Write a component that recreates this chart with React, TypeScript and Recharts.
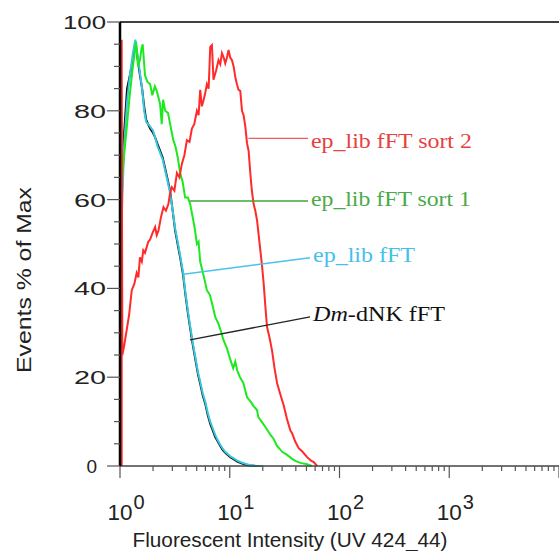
import React from 'react'
import { LineChart, Line, XAxis, YAxis, ReferenceLine } from 'recharts'

// channel intensities (log axis) and % of max for each histogram
const lowX = [
  1, 1.02, 1.09, 1.16, 1.23, 1.31, 1.38, 1.46, 1.52, 1.59,
  1.66, 1.73, 1.88, 2.0, 2.09, 2.2, 2.32, 2.45, 2.58, 2.72,
  2.86, 3.0, 3.18, 3.35, 3.53, 3.76, 3.95, 4.18, 4.36, 4.55,
  4.74, 4.94, 5.15, 5.38, 5.66, 5.98, 6.3, 6.64, 7.0, 7.37,
  7.78, 8.19, 8.64, 9.1, 10.1, 10.9, 11.7, 12.8, 13.9, 15.4,
  17.1, 20,
]
const dnkY = [
  0, 55, 75, 85, 88, 91.5, 95.5, 91, 88, 85,
  81, 78, 76, 75, 74, 72.5, 71, 69.5, 67, 64.5,
  62, 58, 53, 50, 47, 43, 38.5, 34, 31, 28,
  25.5, 23, 20.5, 18.5, 16, 14, 11.5, 9.5, 8, 6.5,
  5.5, 4.5, 3.6, 3, 2, 1.5, 1, 0.6, 0.3, 0.1,
  0, 0,
]
const eplibY = [
  0, 50, 72, 82, 88, 93, 96, 92, 88.5, 85,
  80, 77.5, 76.5, 75.5, 74, 72, 70.5, 69, 66.5, 64,
  61.5, 58, 53.5, 50.5, 47.5, 43.5, 39, 34.5, 31.5, 28.5,
  26, 23.5, 21, 19, 16.5, 14.5, 12, 10, 8.5, 7,
  5.8, 4.8, 3.9, 3.2, 2.2, 1.7, 1.2, 0.8, 0.5, 0.2,
  0.1, 0,
]
const sort1X = [
  1, 1.036, 1.09, 1.15, 1.22, 1.31, 1.36, 1.4, 1.46, 1.52,
  1.57, 1.61, 1.69, 1.78, 1.88, 1.97, 2.08, 2.16, 2.24, 2.32,
  2.4, 2.47, 2.58, 2.74, 2.89, 3.05, 3.2, 3.36, 3.53, 3.72,
  3.92, 4.15, 4.36, 4.6, 4.8, 5.02, 5.2, 5.38, 5.7, 6.19,
  6.6, 7.0, 7.37, 7.9, 8.4, 8.72, 9.43, 10.1, 10.76, 11.23,
  11.7, 12.4, 13.3, 14.36, 15.5, 16.5, 17.72, 18.21, 19.5, 21.5,
  23.5, 24.96, 27, 30, 33.3, 37, 40, 44, 50.7, 56,
]
const sort1Y = [
  0, 64, 70, 76, 83, 90, 93, 95.5, 90, 91.5,
  94, 95, 88, 86.5, 86, 83.5, 85.5, 84.5, 83, 81.5,
  77, 82.5, 80, 79.5, 76.5, 73.5, 72, 69.5, 66, 64,
  60.5, 60.5, 59, 56, 53.5, 50, 50.5, 46, 43.5, 39.6,
  38.5, 36, 33.6, 32, 30, 28.5, 26.5, 24, 22, 23.5,
  21.5, 20, 18.7, 15.5, 14.5, 13.5, 12.6, 11, 10, 8.5,
  7, 6.2, 4.5, 3.2, 2.5, 1.6, 1.1, 0.7, 0.4, 0,
]
const sort2X = [
  1.035, 1.035, 1.05, 1.09, 1.15, 1.21, 1.28, 1.35, 1.42, 1.47,
  1.52, 1.58, 1.63, 1.69, 1.75, 1.81, 1.88, 1.98, 2.09, 2.16,
  2.24, 2.36, 2.49, 2.62, 2.76, 2.86, 2.97, 3.13, 3.3, 3.48,
  3.66, 3.86, 4.07, 4.3, 4.52, 4.75, 5.02, 5.2, 5.38, 5.57,
  5.77, 5.98, 6.19, 6.42, 6.64, 6.88, 7.11, 7.5, 7.9, 8.19,
  8.49, 8.8, 9.1, 9.43, 9.75, 10.1, 10.47, 10.85, 11.23, 11.63,
  12.03, 12.47, 12.93, 13.37, 13.86, 14.36, 14.85, 15.39, 15.9, 16.5,
  17.1, 17.72, 18.35, 18.99, 19.7, 20.36, 21.1, 21.86, 23, 24.29,
  25.6, 26.98, 29, 30.99, 33.3, 35.69, 36.98, 39.5, 42.49, 46,
  50.7, 55, 58.27, 62.57,
]
const sort2Y = [
  0, 96, 25, 27, 30.6, 34, 39.6, 41, 43.5, 42.5,
  47, 46, 48.6, 48, 49.3, 50.5, 51, 52.5, 53.8, 52,
  53, 56, 58.3, 57.5, 59, 61.5, 62.8, 62, 66, 65,
  68, 70, 73.4, 73, 76, 77, 80, 79, 84.7, 81,
  82.4, 84, 86, 85, 94.4, 94.8, 87, 89, 91.4, 90.5,
  93, 92, 90.7, 92, 93.7, 92, 91.4, 90, 87.6, 86,
  84.7, 84.5, 80, 79, 76.5, 72.7, 71, 66, 62, 59,
  57.5, 55.4, 52, 48.6, 45, 41.2, 36, 31.3, 29, 26,
  22, 18.7, 16, 13.7, 10.5, 8, 7.4, 5.5, 4, 3.2,
  2, 1.2, 0.9, 0,
]

const xTicks = [
  1, 2, 3, 4, 5, 6, 7, 8, 9,
  10, 20, 30, 40, 50, 60, 70, 80, 90,
  100, 200, 300, 400, 500, 600, 700, 800, 900,
  1000, 2000, 3000, 4000, 5000, 6000, 7000, 8000, 9000, 10000,
]
const yTicks = [0, 5, 10, 15, 20, 25, 30, 35, 40, 45, 50, 55, 60, 65, 70, 75, 80, 85, 90, 95, 100]

// callout lines: from curve to text, in data units
const callouts = [
  { name: 'sort2', text: 'ep_lib fFT sort 2', x1: 14.8, y1: 73.8, x2: 51.6, y2: 73.8, line: '#f05a5a', color: '#e8403f', width: 161, dy: 10 },
  { name: 'sort1', text: 'ep_lib fFT sort 1', x1: 4.34, y1: 59.7, x2: 51.6, y2: 59.7, line: '#3aa63a', color: '#4aaa48', width: 160, dy: 5.5 },
  { name: 'eplib', text: 'ep_lib fFT', x1: 3.77, y1: 43.2, x2: 53.9, y2: 46.9, line: '#4cc2ea', color: '#45c0ea', width: 102, dy: 4.5 },
  { name: 'dnk', text: 'dNK fFT', x1: 4.34, y1: 28.4, x2: 53.9, y2: 33.6, line: '#222', color: '#111', width: 132, dy: 4.5 },
]

const pts = (xs: number[], ys: number[]) => xs.map((x, i) => ({ x, y: ys[i] }))

const sans = "'Liberation Sans', Arial, sans-serif"
const serif = "'Liberation Serif', 'Times New Roman', serif"

const XTick = ({ x, y, payload }: any) => {
  const v = payload.value
  const lg = Math.log10(v)
  const exp = Math.round(lg)
  const major = Math.abs(lg - exp) < 1e-6
  return (
    <g>
      <line x1={x} x2={x} y1={y} y2={y + (major ? 12 : 5)} stroke="#555" strokeWidth={1.2} />
      {major && exp < 4 && (
        <g fontFamily={sans} fill="#222">
          <text x={x} y={y + 54} fontSize={22} textAnchor="middle" textLength={25} lengthAdjust="spacingAndGlyphs">10</text>
          <text x={x + 13.5} y={y + 43} fontSize={20}>{exp}</text>
        </g>
      )}
    </g>
  )
}

const YTick = ({ x, y, payload }: any) => {
  const v = payload.value
  const major = v % 20 === 0
  const len = String(v).length
  return (
    <g>
      <line x1={x - (major ? 13 : 6)} x2={x} y1={y} y2={y} stroke="#555" strokeWidth={1.2} />
      {major && (
        len === 1
          ? <text x={x - 23} y={y + 7} textAnchor="end" fontSize={19} fontFamily={sans} fill="#222">{v}</text>
          : <text x={x - 14} y={y + 7} textAnchor="end" fontSize={19} fontFamily={sans} fill="#222"
              textLength={len === 3 ? 43 : 32} lengthAdjust="spacingAndGlyphs">{v}</text>
      )}
    </g>
  )
}

const calloutLabel = (c: typeof callouts[number]) => (props: any) => {
  const vb = props.viewBox || { x: 0, y: 0, width: 0 }
  return (
    <text x={vb.x + vb.width + 3} y={vb.y + c.dy} fontFamily={serif} fontSize={20} fill={c.color}
      textLength={c.width} lengthAdjust="spacingAndGlyphs">
      {c.name === 'dnk' && <tspan fontStyle="italic">Dm</tspan>}
      {c.name === 'dnk' ? '-' + c.text : c.text}
    </text>
  )
}

export default function App() {
  return (
    <div style={{ position: 'absolute', left: 0, top: 0, width: 559, height: 551, background: '#fff' }}>
      <LineChart width={559} height={551} margin={{ top: 22, right: 0, bottom: 0, left: 0 }}>
        <XAxis
          type="number" dataKey="x" scale="log" domain={[1, 10000]} allowDataOverflow
          ticks={xTicks} interval={0} tick={<XTick />} tickSize={0} tickMargin={0} tickLine={false}
          height={85} axisLine={{ stroke: '#444', strokeWidth: 1.5 }}
        />
        <YAxis
          type="number" domain={[0, 100]} ticks={yTicks} interval={0} tick={<YTick />}
          tickSize={0} tickMargin={0} tickLine={false} width={120}
          axisLine={{ stroke: '#000', strokeWidth: 2.5 }}
        />
        <ReferenceLine y={100} stroke="#000" strokeWidth={1.5} />
        <Line data={pts(lowX, dnkY)} dataKey="y" stroke="#111" strokeWidth={2} dot={false} isAnimationActive={false} />
        <Line data={pts(lowX, eplibY)} dataKey="y" stroke="#38c8df" strokeWidth={2} dot={false} isAnimationActive={false} />
        <Line data={pts(sort1X, sort1Y)} dataKey="y" stroke="#1ee81e" strokeWidth={2} dot={false} isAnimationActive={false} />
        <Line data={pts(sort2X, sort2Y)} dataKey="y" stroke="#ff2a2a" strokeWidth={2} dot={false} isAnimationActive={false} />
        {callouts.map(c => (
          <ReferenceLine
            key={c.name}
            segment={[{ x: c.x1, y: c.y1 }, { x: c.x2, y: c.y2 }]}
            stroke={c.line} strokeWidth={1.4} ifOverflow="visible"
            label={calloutLabel(c)}
          />
        ))}
      </LineChart>
      <svg width={559} height={551} style={{ position: 'absolute', left: 0, top: 0, pointerEvents: 'none' }}>
        <text transform="translate(31,280) rotate(-90)" textAnchor="middle" fontFamily={sans} fontSize={20} fill="#222"
          textLength={186} lengthAdjust="spacingAndGlyphs">Events  % of Max</text>
        <text x={290} y={547} textAnchor="middle" fontFamily={sans} fontSize={20} fill="#222"
          textLength={315} lengthAdjust="spacingAndGlyphs">Fluorescent Intensity (UV 424_44)</text>
      </svg>
    </div>
  )
}
